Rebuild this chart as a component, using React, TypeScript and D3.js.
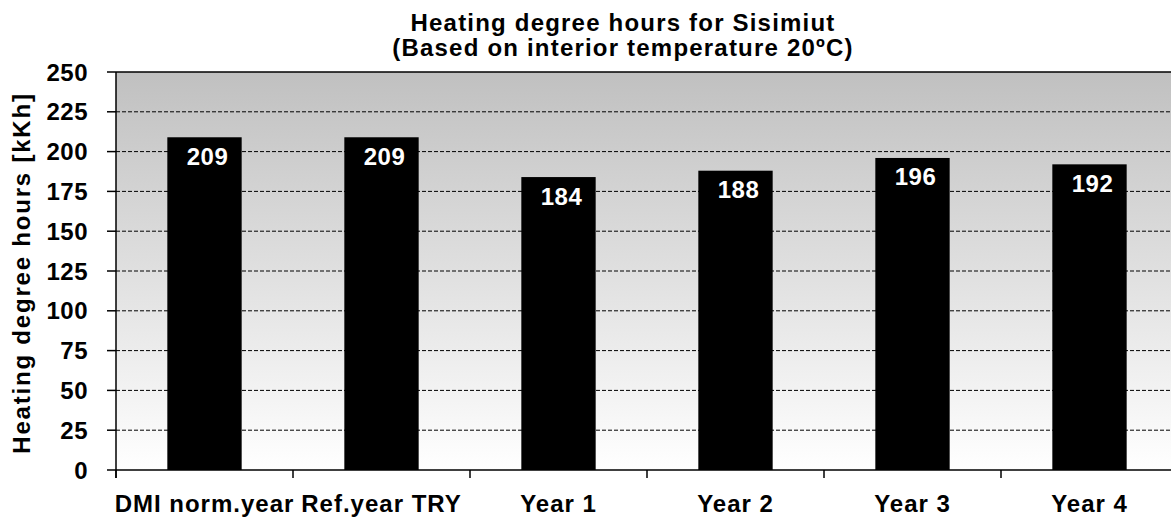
import React from "react";
import * as d3 from "d3";

const categories = ["DMI norm.year", "Ref.year TRY", "Year 1", "Year 2", "Year 3", "Year 4"];
const values = [209, 209, 184, 188, 196, 192];
const yTicks = [0, 25, 50, 75, 100, 125, 150, 175, 200, 225, 250];
const titleLines = ["Heating degree hours for Sisimiut", "(Based on interior temperature 20ºC)"];
const yAxisTitle = "Heating degree hours [kKh]";

const W = 1171;
const H = 527;
const left = 116;
const right = 1178;
const top = 72;
const bottom = 470;
const FONT = "'Liberation Sans', Arial, sans-serif";

export default function App() {
  const x = d3.scaleBand<string>().domain(categories).range([left, right]).paddingInner(0.58).paddingOuter(0.29);
  const step = x.step();
  const y = d3.scaleLinear().domain([0, 250]).range([bottom, top]);
  const boundaries = d3.range(categories.length + 1).map((i) => left + i * step);

  return (
    <svg width={W} height={H} style={{ position: "absolute", left: 0, top: 0, background: "#fff" }}>
      <defs>
        <linearGradient id="bg" x1="0" y1="0" x2="0" y2="1">
          <stop offset="0" stopColor="#c0c0c0" />
          <stop offset="1" stopColor="#ffffff" />
        </linearGradient>
      </defs>
      <rect x={left} y={top} width={right - left} height={bottom - top} fill="url(#bg)" />
      {yTicks.filter((t) => t > 0 && t < 250).map((t) => (
        <line key={t} x1={left} x2={right} y1={y(t)} y2={y(t)} stroke="#000" strokeWidth={1} strokeDasharray="4 2" />
      ))}
      {categories.map((c, i) => (
        <rect key={c} x={x(c)} y={y(values[i])} width={x.bandwidth()} height={bottom - y(values[i])} fill="#000" />
      ))}
      {categories.map((c, i) => (
        <text key={c} x={(x(c) as number) + x.bandwidth() / 2 + 3} y={y(values[i]) + 19} fill="#fff"
          fontFamily={FONT} fontWeight="bold" fontSize={24} textAnchor="middle" dominantBaseline="central" letterSpacing={0.5}>
          {values[i]}
        </text>
      ))}
      {/* axes */}
      <line x1={left} x2={right} y1={top} y2={top} stroke="#000" strokeWidth={1.5} />
      <line x1={left} x2={right} y1={bottom} y2={bottom} stroke="#000" strokeWidth={1.5} />
      <line x1={left} x2={left} y1={top} y2={bottom + 8} stroke="#000" strokeWidth={1.5} />
      {yTicks.map((t) => (
        <g key={t}>
          <line x1={left - 9} x2={left} y1={y(t)} y2={y(t)} stroke="#000" strokeWidth={1.5} />
          <text x={88} y={y(t)} fontFamily={FONT} fontWeight="bold" fontSize={24} textAnchor="end" dominantBaseline="central" letterSpacing={0.5}>
            {t}
          </text>
        </g>
      ))}
      {boundaries.map((b, i) => (
        <line key={i} x1={b} x2={b} y1={bottom} y2={bottom + 8} stroke="#000" strokeWidth={1.5} />
      ))}
      {categories.map((c) => (
        <text key={c} x={(x(c) as number) + x.bandwidth() / 2} y={512} fontFamily={FONT} fontWeight="bold" fontSize={24}
          textAnchor="middle" letterSpacing={1}>
          {c}
        </text>
      ))}
      {titleLines.map((t, i) => (
        <text key={i} x={623} y={31 + i * 25} fontFamily={FONT} fontWeight="bold" fontSize={24} textAnchor="middle" letterSpacing={1.2}>
          {t}
        </text>
      ))}
      <text transform={`translate(30, 273) rotate(-90)`} fontFamily={FONT} fontWeight="bold" fontSize={24} textAnchor="middle" letterSpacing={1.8}>
        {yAxisTitle}
      </text>
    </svg>
  );
}
